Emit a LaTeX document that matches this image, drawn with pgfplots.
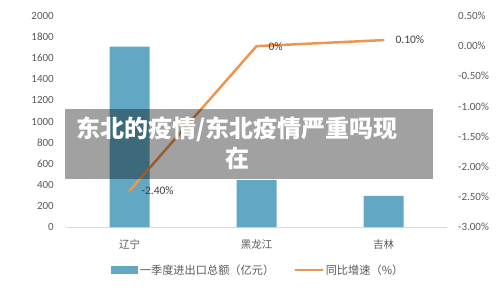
\documentclass[border=0pt]{standalone}
\usepackage{pgfplots}
\pgfplotsset{compat=1.18}
\usepackage{fontspec}
\setmainfont{Carlito}
\newfontfamily\cjk{Noto Sans CJK SC}
\definecolor{barblue}{RGB}{98,168,196}
\definecolor{lineorange}{RGB}{237,150,80}
\definecolor{txtgray}{RGB}{89,89,89}
\definecolor{lblgray}{RGB}{64,64,64}
\definecolor{axgray}{RGB}{217,217,217}

\begin{document}
\begin{tikzpicture}
\path[use as bounding box] (-66pt,-62pt) rectangle (434pt,227pt);
\begin{axis}[
  at={(0,0)}, anchor=south west,
  scale only axis, width=381pt, height=211pt,
  xmin=-0.5, xmax=2.5, ymin=0, ymax=2000,
  axis x line*=bottom, axis y line*=left,
  x axis line style={draw=axgray, line width=0.8pt, -},
  y axis line style={draw=none},
  tick style={draw=none},
  xtick={0,1,2},
  xticklabels={辽宁,黑龙江,吉林},
  xticklabel style={font=\cjk\fontsize{10.5}{12}\selectfont, text=txtgray, inner sep=0pt, yshift=-8pt},
  ytick={0,200,...,2000},
  yticklabel style={font=\fontsize{11}{13}\selectfont, text=txtgray, inner sep=0pt, xshift=-12pt},
  /pgf/number format/assume math mode=true,
  /pgf/number format/1000 sep={},
  ybar, bar width=40pt,
]
\addplot[fill=barblue, draw=none] coordinates {(0,1710) (1,445) (2,295)};
\end{axis}
\begin{axis}[
  at={(0,0)}, anchor=south west,
  scale only axis, width=381pt, height=211pt,
  xmin=-0.5, xmax=2.5, ymin=-3, ymax=0.5,
  axis x line=none, axis y line*=right,
  y axis line style={draw=none},
  tick style={draw=none},
  ytick={-3,-2.5,-2,-1.5,-1,-0.5,0,0.5},
  yticklabels={-3.00\%,-2.50\%,-2.00\%,-1.50\%,-1.00\%,-0.50\%,0.00\%,0.50\%},
  yticklabel style={font=\fontsize{11}{13}\selectfont, text=txtgray, inner sep=0pt, xshift=11pt, anchor=west},
  legend columns=2,
  legend style={draw=none, fill=none, at={(0.505,-0.204)}, anchor=center,
    font=\cjk\fontsize{11.2}{13}\selectfont, text=txtgray,
    /tikz/every even column/.append style={column sep=18pt},
    inner sep=0pt},
]
\addlegendimage{legend image code/.code={\fill[barblue] (0pt,-3.5pt) rectangle (26pt,3.5pt);}}
\addlegendentry{一季度进出口总额（亿元）}
\addplot[lineorange, line width=2.5pt, line join=round, line cap=round,
  nodes near coords, point meta=explicit symbolic,
  every node near coord/.style={anchor=west, xshift=7.5pt, font=\fontsize{11.5}{13}\selectfont, text=lblgray},
  legend image code/.code={\draw[lineorange, line width=2.5pt] (0pt,0pt) -- (27pt,0pt);}]
  coordinates {(0,-2.4) [-2.40\%] (1,0) [0\%] (2,0.1) [0.10\%]};
\addlegendentry{同比增速（\%）}
\end{axis}
\fill[black, opacity=0.37] (-1pt,48pt) rectangle (367pt,118pt);
\node[text=white, align=center, font=\cjk\bfseries\fontsize{24}{30}\selectfont, inner sep=0pt] at (171pt,84pt) {东北的疫情/东北疫情严重吗现\\在};
\end{tikzpicture}
\end{document}
